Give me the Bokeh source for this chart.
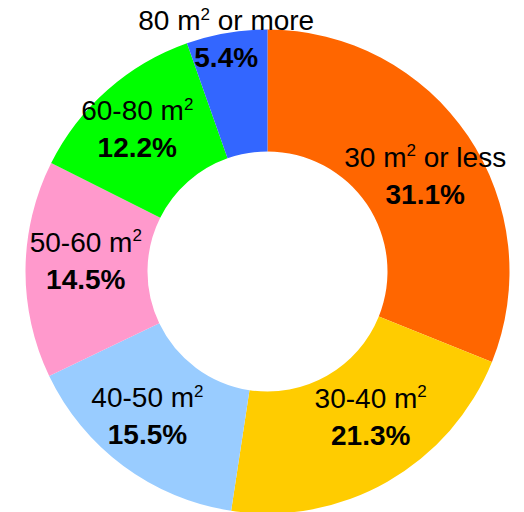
import math
from bokeh.plotting import figure
from bokeh.models import ColumnDataSource
from bokeh.core.properties import value
from bokeh.embed import file_html
from bokeh.resources import INLINE

categories = ["30 m\u00b2 or less", "30-40 m\u00b2", "40-50 m\u00b2", "50-60 m\u00b2", "60-80 m\u00b2", "80 m\u00b2 or more"]
shares = [31.1, 21.3, 15.5, 14.5, 12.2, 5.4]
colors = ["#FF6600", "#FFCC00", "#99CCFF", "#FF99CC", "#00FF00", "#3366FF"]

# label placement (style): radius from centre and small angular shift (degrees)
label_radius = [184, 179, 189, 182, 192, 235]
label_shift = [-3.0, 5.5, -2.9, -2.6, 1.3, 0.4]

W, H = 524, 512
cx, cy = 267, 271
R_OUT, R_IN = 242, 120
FS, SUP_FS = 28, 17
FONT = "Liberation Sans"
NAME_DY, SUP_DY, PCT_DY = -19.5, -26.5, 17.5

# Arial / Liberation Sans advance widths (per 1000 em)
ADV = {" ": 278, "\u00a0": 278, "-": 333, "m": 833, "o": 556, "r": 333,
       "e": 556, "l": 222, "s": 500}
for d in "0123456789":
    ADV[d] = 556


def tw(s, size):
    return sum(ADV.get(c, 556) for c in s) * size / 1000.0


total = sum(shares)
starts, ends, lx, ly = [], [], [], []
cum = 0.0
for s, lr, sh in zip(shares, label_radius, label_shift):
    a0 = math.pi / 2 - 2 * math.pi * cum / total
    cum += s
    a1 = math.pi / 2 - 2 * math.pi * cum / total
    starts.append(a0)
    ends.append(a1)
    mid = (a0 + a1) / 2 + math.radians(sh)
    lx.append(lr * math.cos(mid))
    ly.append(lr * math.sin(mid))

# split names at the superscript
pre, post, off_pre, off_sup, off_post = [], [], [], [], []
for name in categories:
    a, b = name.split("\u00b2")
    b = b.replace(" ", "\u00a0")
    w1 = tw(a, FS)
    ws = tw("2", SUP_FS)
    w3 = tw(b, FS)
    start = -(w1 + ws + w3) / 2
    pre.append(a)
    post.append(b)
    off_pre.append(start)
    off_sup.append(start + w1)
    off_post.append(start + w1 + ws)

src = ColumnDataSource(dict(start=starts, end=ends, color=colors,
                            lx=lx, ly=ly, pre=pre, post=post,
                            sup=["2"] * len(categories),
                            off_pre=off_pre, off_sup=off_sup, off_post=off_post,
                            pct=[f"{s:.1f}%" for s in shares]))

p = figure(width=W, height=H, x_range=(-cx, W - cx), y_range=(-(H - cy), cy),
           output_backend="svg", toolbar_location=None, min_border=0)
p.axis.visible = False
p.grid.visible = False
p.outline_line_color = None
p.background_fill_color = "white"

p.annular_wedge(x=0, y=0, inner_radius=R_IN, outer_radius=R_OUT,
                start_angle="start", end_angle="end", direction="clock",
                fill_color="color", line_color=None, source=src)

common = dict(source=src, text_baseline="alphabetic", text_align="left",
              text_font=value(FONT), text_color="black")
p.text(x="lx", y="ly", text="pre", x_offset="off_pre", y_offset=NAME_DY,
       text_font_size=f"{FS}px", **common)
p.text(x="lx", y="ly", text="sup", x_offset="off_sup", y_offset=SUP_DY,
       text_font_size=f"{SUP_FS}px", **common)
p.text(x="lx", y="ly", text="post", x_offset="off_post", y_offset=NAME_DY,
       text_font_size=f"{FS}px", **common)
p.text(x="lx", y="ly", text="pct", source=src, y_offset=PCT_DY,
       text_align="center", text_baseline="alphabetic",
       text_font=value(FONT), text_font_size=f"{FS}px",
       text_font_style="bold", text_color="black")

open("out.html", "w").write(file_html(p, INLINE))
